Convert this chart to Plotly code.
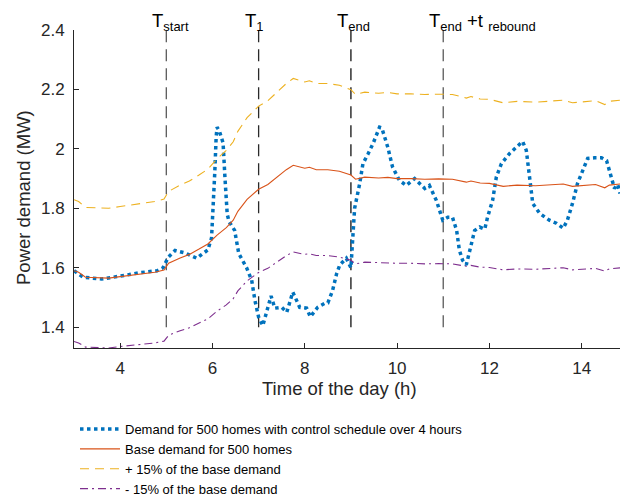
import plotly.graph_objects as go

# ---- data ----
base_t = [3.0, 3.1, 3.25, 3.5, 3.75, 4.0, 4.25, 4.5, 4.75, 4.95, 5.05, 5.3, 5.5, 5.7, 5.9,
          6.1, 6.3, 6.45, 6.55, 6.75, 7.0, 7.2, 7.4, 7.6, 7.75, 7.9, 8.0, 8.1, 8.25, 8.5,
          8.75, 9.0, 9.1, 9.3, 9.6, 9.8, 10.0, 10.3, 10.6, 10.9, 11.2, 11.5, 11.6, 11.8,
          12.0, 12.3, 12.6, 13.0, 13.3, 13.6, 13.8, 14.0, 14.3, 14.5, 14.6, 14.85]
base_mw = [1.590, 1.585, 1.568, 1.566, 1.565, 1.570, 1.575, 1.580, 1.585, 1.592, 1.615,
           1.633, 1.645, 1.662, 1.680, 1.710, 1.735, 1.760, 1.790, 1.830, 1.864, 1.880,
           1.905, 1.930, 1.945, 1.940, 1.935, 1.938, 1.930, 1.930, 1.925, 1.912, 1.898,
           1.905, 1.902, 1.904, 1.900, 1.900, 1.898, 1.899, 1.898, 1.888, 1.892, 1.885,
           1.884, 1.874, 1.878, 1.876, 1.879, 1.882, 1.874, 1.876, 1.880, 1.869, 1.878, 1.882]
upper_mw = [1.829, 1.823, 1.803, 1.801, 1.800, 1.806, 1.811, 1.817, 1.823, 1.831, 1.857,
            1.878, 1.892, 1.911, 1.932, 1.967, 1.995, 2.024, 2.059, 2.105, 2.144, 2.162,
            2.191, 2.220, 2.237, 2.231, 2.225, 2.229, 2.220, 2.220, 2.214, 2.199, 2.183,
            2.191, 2.187, 2.190, 2.185, 2.185, 2.183, 2.184, 2.183, 2.171, 2.176, 2.168,
            2.167, 2.155, 2.160, 2.157, 2.161, 2.164, 2.155, 2.157, 2.162, 2.149, 2.160, 2.164]
lower_mw = [1.352, 1.347, 1.333, 1.331, 1.330, 1.335, 1.339, 1.343, 1.347, 1.353, 1.373,
            1.388, 1.398, 1.413, 1.428, 1.454, 1.475, 1.496, 1.522, 1.556, 1.584, 1.598,
            1.619, 1.641, 1.653, 1.649, 1.645, 1.647, 1.641, 1.641, 1.636, 1.625, 1.613,
            1.619, 1.617, 1.618, 1.615, 1.615, 1.613, 1.614, 1.613, 1.605, 1.608, 1.602,
            1.601, 1.593, 1.596, 1.595, 1.597, 1.600, 1.593, 1.595, 1.598, 1.589, 1.596, 1.600]

ctrl_t = [3.0, 3.1, 3.2, 3.4, 3.6, 3.8, 4.0, 4.2, 4.4, 4.6, 4.8, 4.93, 5.04, 5.19, 5.4,
          5.55, 5.66, 5.77, 5.9, 5.98, 6.02, 6.05, 6.08, 6.1, 6.15, 6.23, 6.27, 6.32, 6.36,
          6.48, 6.57, 6.74, 6.85, 6.92, 7.0, 7.09, 7.2, 7.27, 7.35, 7.5, 7.61, 7.74, 7.89,
          8.04, 8.12, 8.28, 8.43, 8.5, 8.6, 8.69, 8.76, 8.9, 9.0, 9.05, 9.08, 9.19, 9.26,
          9.37, 9.48, 9.62, 9.67, 9.8, 9.9, 10.05, 10.2, 10.38, 10.5, 10.6, 10.7, 10.85,
          10.99, 11.1, 11.2, 11.29, 11.35, 11.42, 11.5, 11.6, 11.68, 11.79, 11.9, 11.96,
          12.07, 12.15, 12.26, 12.44, 12.61, 12.72, 12.8, 12.87, 12.94, 13.09, 13.3, 13.45,
          13.6, 13.69, 13.8, 13.91, 14.02, 14.13, 14.28, 14.43, 14.54, 14.65, 14.71, 14.78, 14.83]
ctrl_mw = [1.590, 1.580, 1.568, 1.565, 1.562, 1.567, 1.571, 1.577, 1.583, 1.586, 1.590,
           1.600, 1.635, 1.658, 1.650, 1.640, 1.632, 1.645, 1.660, 1.700, 1.800, 1.920,
           2.040, 2.073, 2.060, 2.020, 1.905, 1.780, 1.755, 1.726, 1.648, 1.600, 1.558,
           1.490, 1.434, 1.405, 1.466, 1.505, 1.464, 1.467, 1.450, 1.518, 1.467, 1.464,
           1.435, 1.467, 1.480, 1.482, 1.522, 1.580, 1.610, 1.632, 1.600, 1.715, 1.800,
           1.883, 1.950, 1.983, 2.018, 2.073, 2.070, 2.005, 1.940, 1.894, 1.877, 1.900,
           1.882, 1.867, 1.877, 1.827, 1.760, 1.770, 1.770, 1.726, 1.659, 1.625, 1.610,
           1.670, 1.725, 1.737, 1.730, 1.770, 1.827, 1.905, 1.950, 1.985, 2.010, 2.025,
           1.995, 1.905, 1.816, 1.783, 1.760, 1.750, 1.733, 1.760, 1.816, 1.884, 1.928,
           1.968, 1.970, 1.970, 1.960, 1.905, 1.867, 1.880, 1.850]

event_t = [5, 7, 9, 11]
event_labels = ["T<sub>start</sub>", "T<sub>1</sub>", "T<sub>end</sub>",
                "T<sub>end</sub> +t <sub>rebound</sub>"]
event_colors = ["#5a5a5a", "#2a2a2a", "#111111", "#5a5a5a"]
event_span = [1.4, 2.4]

x_ticks = [4, 6, 8, 10, 12, 14]
y_ticks = [1.4, 1.6, 1.8, 2.0, 2.2, 2.4]

names = ["Demand for 500 homes with control schedule over 4 hours",
         "Base demand for 500 homes",
         "+ 15% of the base demand",
         "- 15% of the base demand"]

FONT = "Liberation Sans, Arial, Helvetica, sans-serif"
TXT = "#262626"

fig = go.Figure()

for t, c in zip(event_t, event_colors):
    fig.add_trace(go.Scatter(x=[t, t], y=event_span, mode="lines", showlegend=False,
                             hoverinfo="skip",
                             line=dict(color=c, width=1.3, dash="12px,7px")))

fig.add_trace(go.Scatter(x=ctrl_t, y=ctrl_mw, mode="lines", name=names[0],
                         line=dict(color="#0072BD", width=3.5, dash="dot")))
fig.add_trace(go.Scatter(x=base_t, y=base_mw, mode="lines", name=names[1],
                         line=dict(color="#D95319", width=1.1)))
fig.add_trace(go.Scatter(x=base_t, y=upper_mw, mode="lines", name=names[2],
                         line=dict(color="#EDB120", width=1.1, dash="9px,6px")))
fig.add_trace(go.Scatter(x=base_t, y=lower_mw, mode="lines", name=names[3],
                         line=dict(color="#7E2F8E", width=1.1, dash="8px,4px,2px,4px")))

for t, lab in zip(event_t, event_labels):
    fig.add_annotation(x=t, y=2.4, xref="x", yref="y", text=lab, showarrow=False,
                       xanchor="left", yanchor="bottom", xshift=-16, yshift=-6,
                       font=dict(family=FONT, size=18.5, color="#000000"))

axis_common = dict(showline=True, linecolor=TXT, linewidth=1, ticks="inside",
                   ticklen=5, tickcolor=TXT, showgrid=False, zeroline=False,
                   automargin=False,
                   tickfont=dict(family=FONT, size=17, color=TXT))

L, R, T, B = 74, 0, 30, 150
W, H = 620, 498
pw, ph = W - L - R, H - T - B

# axis titles as annotations (the reference centres them slightly off the plot centre)
fig.add_annotation(x=(339 - L) / pw, y=(H - B - 388) / ph, xref="paper", yref="paper",
                   text="Time of the day (h)", showarrow=False, xanchor="center",
                   yanchor="middle", font=dict(family=FONT, size=18.5, color=TXT))
fig.add_annotation(x=(23 - L) / pw, y=(H - B - 198) / ph, xref="paper", yref="paper",
                   text="Power demand (MW)", showarrow=False, xanchor="center",
                   yanchor="middle", textangle=-90, font=dict(family=FONT, size=18.5, color=TXT))

fig.update_layout(
    width=W, height=H,
    margin=dict(l=L, r=R, t=T, b=B, autoexpand=False),
    paper_bgcolor="white", plot_bgcolor="white",
    font=dict(family=FONT, color=TXT),
    xaxis=dict(range=[3, 14.83], tickvals=x_ticks, ticklabelstandoff=5, **axis_common),
    yaxis=dict(range=[1.33, 2.4], tickvals=y_ticks, ticklabelstandoff=5, **axis_common),
    legend=dict(x=(75 - L) / pw, y=-(414 - (H - B)) / ph, xanchor="left", yanchor="top",
                font=dict(family=FONT, size=13, color="#000000"),
                bgcolor="rgba(0,0,0,0)", tracegroupgap=0, itemwidth=40),
)

fig.write_html("out.html", config={"displayModeBar": False},
               post_script="document.body.style.margin='0';document.body.style.padding='0';")
